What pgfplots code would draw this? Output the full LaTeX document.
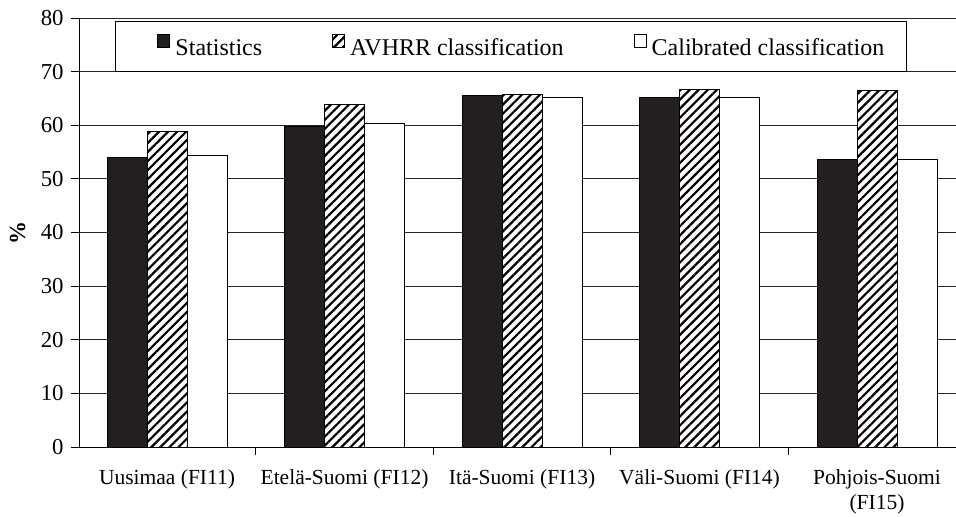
\documentclass[border=0pt]{standalone}
\usepackage{fontspec}
\setmainfont{Liberation Serif}
\usepackage{pgfplots}
\pgfplotsset{compat=1.18}
\usetikzlibrary{patterns.meta}
\definecolor{barblack}{RGB}{35,31,32}
\pgfplotsset{
  sqlegend/.style={legend image code/.code={\draw[##1,/tikz/.cd,line width=0.5bp] (0bp,1bp) rectangle (6bp,7.5bp);}},
  sqlegendfirst/.style={legend image code/.code={\path (-10bp,0bp); \draw[##1,/tikz/.cd,line width=0.5bp] (0bp,1bp) rectangle (6bp,7.5bp);}},
}
\begin{document}
\fontsize{10.75bp}{12.5bp}\selectfont
\begin{tikzpicture}
\useasboundingbox (0,0) rectangle (478bp,258.5bp);
\begin{axis}[
  at={(39.5bp,35bp)}, anchor=south west,
  scale only axis, width=438.5bp, height=214.5bp,
  xmin=-0.4958, xmax=4.445, ymin=0, ymax=80,
  axis x line=bottom, axis y line=left,
  axis line style={-, black, line width=0.5bp},
  ytick={0,10,...,80},
  /pgf/number format/assume math mode=true,
  tick label style={font=\fontsize{10.75bp}{12.5bp}\selectfont},
  tick align=outside,
  tick style={black, line width=0.5bp},
  ymajorgrids,
  major grid style={black!85, line width=0.5bp},
  xtick={0.5,1.5,2.5,3.5},
  xticklabels={},
  major tick length=4bp,
  extra x ticks={0,1,2,3,4},
  extra x tick labels={Uusimaa (FI11), Etelä-Suomi (FI12), Itä-Suomi (FI13), Väli-Suomi (FI14), {Pohjois-Suomi\\(FI15)}},
  extra x tick style={major tick length=0pt, xticklabel style={align=center, inner sep=0pt, yshift=-11bp}},
  yticklabel style={inner sep=0pt, xshift=-3.5bp, font=\fontsize{11.4bp}{13bp}\selectfont},
  ylabel={\bfseries\%},
  ylabel style={at={(axis description cs:-0.0701,0.5)}, anchor=center, font=\fontsize{11.5bp}{13bp}\selectfont},
  legend columns=3,
  legend style={
    at={(0.04105,0.9336)}, anchor=west,
    draw=black, line width=0.5bp, fill=white,
    inner xsep=11bp, inner ysep=6.15bp,
    font=\fontsize{12bp}{14bp}\selectfont,
    nodes={inner sep=0pt, text height=8.5bp, text depth=1.7bp},
    /tikz/every odd column/.append style={column sep=2.5bp},
    /tikz/every even column/.append style={column sep=35bp},
  },
]
\addplot[ybar, bar width=20bp, bar shift=-20bp, draw=black, line width=0.5bp, fill=barblack, sqlegendfirst]
  coordinates {(0,53.9) (1,59.8) (2,65.5) (3,65.2) (4,53.6)};
\addlegendentry{Statistics}
\addplot[ybar, bar width=20bp, bar shift=0bp, draw=black, line width=0.5bp, fill=white,
  postaction={pattern={Lines[angle=45,distance=3.2bp,line width=1.1bp]}, pattern color=black}, sqlegend]
  coordinates {(0,58.9) (1,63.9) (2,65.8) (3,66.6) (4,66.5)};
\addlegendentry{AVHRR classification}
\addplot[ybar, bar width=20bp, bar shift=20bp, draw=black, line width=0.5bp, fill=white, sqlegend]
  coordinates {(0,54.3) (1,60.4) (2,65.1) (3,65.1) (4,53.7)};
\addlegendentry{Calibrated classification}
\end{axis}
\end{tikzpicture}
\end{document}
